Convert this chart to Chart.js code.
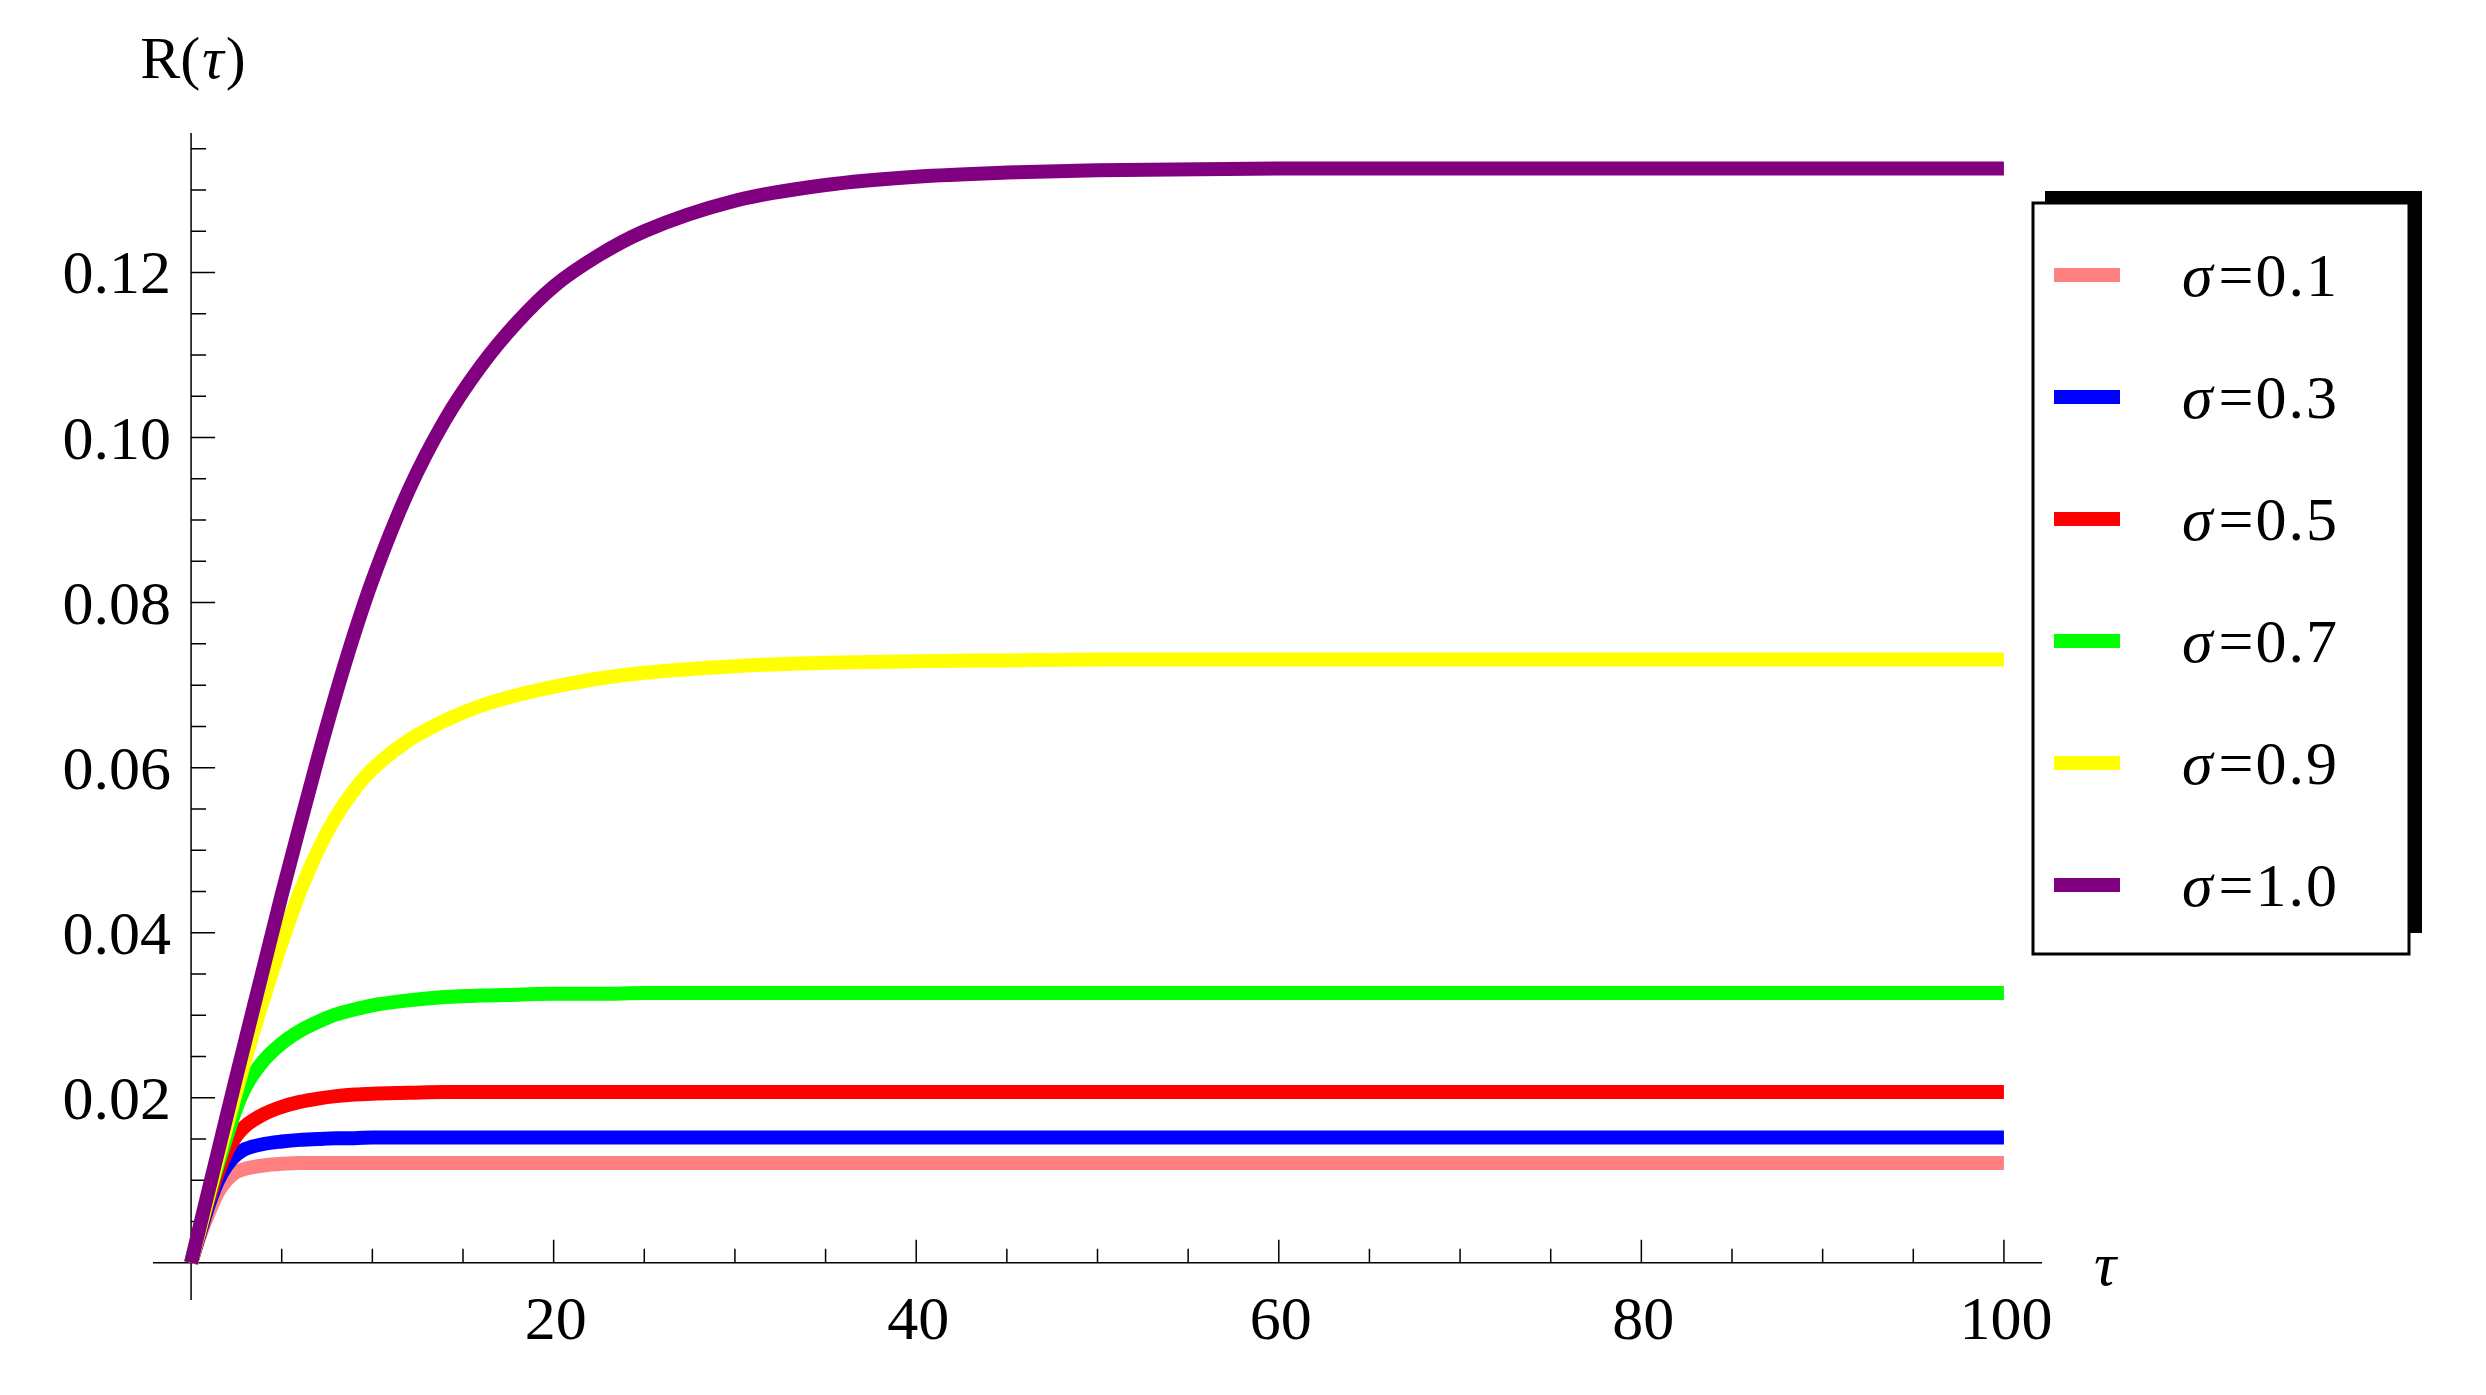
<!DOCTYPE html>
<html>
<head>
<meta charset="utf-8">
<script src="https://cdn.jsdelivr.net/npm/chart.js@4.4.1/dist/chart.umd.min.js"></script>
<style>
html, body { margin: 0; padding: 0; background: #fff; }
#wrap { width: 2486px; height: 1395px; }
</style>
</head>
<body>
<div id="wrap"><canvas id="myChart" width="2486" height="1395"></canvas></div>
<script>
// τ (shared by all curves)
var tau = [0, 0.5, 1, 1.5, 2, 2.5, 3, 4, 5, 6, 7, 8, 9, 10, 12, 14, 16, 18, 20, 22.5, 25, 30, 35, 40, 45, 50, 60, 70, 80, 90, 100];

// R(τ)
var r01 = [0, 0.0034, 0.0062, 0.0086, 0.0101, 0.0110, 0.0114, 0.0118, 0.0120, 0.0121, 0.0121, 0.0121, 0.0121, 0.0121, 0.0121, 0.0121, 0.0121, 0.0121, 0.0121, 0.0121, 0.0121, 0.0121, 0.0121, 0.0121, 0.0121, 0.0121, 0.0121, 0.0121, 0.0121, 0.0121, 0.0121];
var r03 = [0, 0.0037, 0.0072, 0.0100, 0.0119, 0.0131, 0.0138, 0.0144, 0.0147, 0.0149, 0.0150, 0.0151, 0.0151, 0.0152, 0.0152, 0.0152, 0.0152, 0.0152, 0.0152, 0.0152, 0.0152, 0.0152, 0.0152, 0.0152, 0.0152, 0.0152, 0.0152, 0.0152, 0.0152, 0.0152, 0.0152];
var r05 = [0, 0.0040, 0.0078, 0.0110, 0.0136, 0.0154, 0.0166, 0.0180, 0.0189, 0.0195, 0.0199, 0.0202, 0.0204, 0.0205, 0.0206, 0.0207, 0.0207, 0.0207, 0.0207, 0.0207, 0.0207, 0.0207, 0.0207, 0.0207, 0.0207, 0.0207, 0.0207, 0.0207, 0.0207, 0.0207, 0.0207];
var r07 = [0, 0.0042, 0.0083, 0.0121, 0.0155, 0.0188, 0.0213, 0.0245, 0.0266, 0.0281, 0.0292, 0.0301, 0.0307, 0.0312, 0.0318, 0.0322, 0.0324, 0.0325, 0.0326, 0.0326, 0.0327, 0.0327, 0.0327, 0.0327, 0.0327, 0.0327, 0.0327, 0.0327, 0.0327, 0.0327, 0.0327];
var r09 = [0, 0.0042, 0.0085, 0.0127, 0.0168, 0.0208, 0.0247, 0.0320, 0.0388, 0.0449, 0.0500, 0.0541, 0.0573, 0.0598, 0.0633, 0.0657, 0.0675, 0.0688, 0.0698, 0.0708, 0.0715, 0.0723, 0.0727, 0.0729, 0.0730, 0.0731, 0.0731, 0.0731, 0.0731, 0.0731, 0.0731];
var r10 = [0, 0.0046, 0.0091, 0.0136, 0.0181, 0.0226, 0.0270, 0.0358, 0.0446, 0.0530, 0.0612, 0.0690, 0.0762, 0.0827, 0.0936, 0.1021, 0.1087, 0.1140, 0.1183, 0.1221, 0.1250, 0.1287, 0.1306, 0.1316, 0.1321, 0.1324, 0.1326, 0.1326, 0.1326, 0.1326, 0.1326];

var sigmaLabels = ["0.1", "0.3", "0.5", "0.7", "0.9", "1.0"];
var series = [r01, r03, r05, r07, r09, r10];
var colors = ["#FF8080", "#0000FF", "#FF0000", "#00FF00", "#FFFF00", "#800080"];

// ticks
var xTickValues = [20, 40, 60, 80, 100];
var xTickLabels = ["20", "40", "60", "80", "100"];
var yTickValues = [0.02, 0.04, 0.06, 0.08, 0.10, 0.12];
var yTickLabels = ["0.02", "0.04", "0.06", "0.08", "0.10", "0.12"];

var FONT = '"Liberation Serif", "DejaVu Serif", serif';

var datasets = [];
for (var i = 0; i < series.length; i++) {
  var pts = [];
  for (var j = 0; j < tau.length; j++) pts.push({ x: tau[j], y: series[i][j] });
  datasets.push({
    label: "σ=" + sigmaLabels[i],
    data: pts,
    borderColor: colors[i],
    backgroundColor: colors[i],
    borderWidth: 14,
    pointRadius: 0,
    fill: false,
    cubicInterpolationMode: 'monotone',
    borderCapStyle: 'butt',
    order: series.length - 1 - i  // purple on top
  });
}

// Mathematica style axes crossing at the origin
var axesPlugin = {
  id: 'axesPlugin',
  beforeDatasetsDraw: function (chart) {
    var ctx = chart.ctx;
    var xs = chart.scales.x, ys = chart.scales.y, area = chart.chartArea;
    var x0 = xs.getPixelForValue(0), y0 = ys.getPixelForValue(0);
    ctx.save();
    ctx.strokeStyle = '#000';
    ctx.lineWidth = 1.5;
    ctx.beginPath();
    ctx.moveTo(area.left, y0); ctx.lineTo(area.right, y0);
    ctx.moveTo(x0, area.top); ctx.lineTo(x0, area.bottom);
    for (var k = 1; k <= 20; k++) {
      var px = xs.getPixelForValue(k * 5);
      var len = (k % 4 === 0) ? 23 : 14;
      ctx.moveTo(px, y0); ctx.lineTo(px, y0 - len);
    }
    for (var m = 1; m <= 27; m++) {
      var py = ys.getPixelForValue(m * 0.005);
      var ln = (m % 4 === 0) ? 24 : 15;
      ctx.moveTo(x0, py); ctx.lineTo(x0 + ln, py);
    }
    ctx.stroke();

    ctx.fillStyle = '#000';
    ctx.font = '62px ' + FONT;
    ctx.textBaseline = 'alphabetic';
    ctx.textAlign = 'center';
    for (var a = 0; a < xTickValues.length; a++) {
      ctx.fillText(xTickLabels[a], xs.getPixelForValue(xTickValues[a]) + 2, y0 + 76);
    }
    ctx.textAlign = 'right';
    for (var b = 0; b < yTickValues.length; b++) {
      ctx.fillText(yTickLabels[b], x0 - 20, ys.getPixelForValue(yTickValues[b]) + 21);
    }

    // axis labels
    ctx.textAlign = 'left';
    var fN = '60px ' + FONT, fI = 'italic 60px ' + FONT;
    ctx.font = fN; var w1 = ctx.measureText('R(').width;
    ctx.font = fI; var w2 = ctx.measureText('τ').width;
    ctx.font = fN; var w3 = ctx.measureText(')').width;
    var sx = x0 - (w1 + w2 + w3) / 2, by = 78;
    ctx.font = fN; ctx.fillText('R(', sx, by);
    ctx.font = fI; ctx.fillText('τ', sx + w1 + 2, by);
    ctx.font = fN; ctx.fillText(')', sx + w1 + w2 + 4, by);

    ctx.font = 'italic 62px ' + FONT;
    ctx.fillText('τ', 2094, y0 + 22);
    ctx.restore();
  },
  afterDraw: function (chart) {
    var ctx = chart.ctx;
    var L = 2033, T = 203, R = 2409, B = 954;
    ctx.save();
    ctx.fillStyle = '#000';
    ctx.fillRect(L + 12, T - 12, R - L + 1, B - T - 9);
    ctx.fillStyle = '#fff';
    ctx.fillRect(L, T, R - L, B - T);
    ctx.strokeStyle = '#000';
    ctx.lineWidth = 3;
    ctx.strokeRect(L, T, R - L, B - T);
    for (var i = 0; i < chart.data.datasets.length; i++) {
      var ds = chart.data.datasets[i];
      var cy = T + 72 + i * 122;
      ctx.fillStyle = ds.borderColor;
      ctx.fillRect(L + 21, cy - 7, 66, 14);
      ctx.fillStyle = '#000';
      ctx.textBaseline = 'alphabetic';
      ctx.textAlign = 'left';
      ctx.font = 'italic 62px ' + FONT;
      var tx = L + 149;
      ctx.fillText('σ', tx, cy + 21);
      var ws = ctx.measureText('σ').width;
      ctx.font = '62px ' + FONT;
      ctx.letterSpacing = '2px';
      ctx.fillText('=' + sigmaLabels[i], tx + ws + 6, cy + 21);
      ctx.letterSpacing = '0px';
    }
    ctx.restore();
  }
};

var ctx = document.getElementById('myChart');
var myChart = new Chart(ctx, {
  type: 'line',
  data: { datasets: datasets },
  options: {
    responsive: false,
    animation: false,
    events: [],
    layout: { padding: { left: 153, right: 444, top: 133, bottom: 95 } },
    plugins: { legend: { display: false }, tooltip: { enabled: false } },
    scales: {
      x: { type: 'linear', min: -2.1, max: 102.1, display: false },
      y: { type: 'linear', min: -0.0045, max: 0.1369, display: false }
    }
  },
  plugins: [axesPlugin]
});
</script>
</body>
</html>
